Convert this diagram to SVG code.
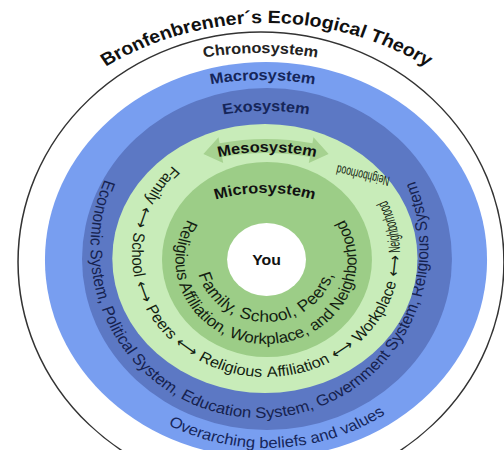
<svg xmlns="http://www.w3.org/2000/svg" width="504" height="450" viewBox="0 0 504 450">
<style>
text{font-family:"Liberation Sans",Arial,"DejaVu Sans",sans-serif}
.lbl{font-weight:bold}
.navy{fill:#16265a}
.blk{fill:#111}
.ring{fill:#141f12}
</style>
<defs>
<path id="p-title" d="M -2.9 292.4 A 269.4 269.4 0 0 1 535.9 292.4"/>
<path id="p-chrono" d="M -39 353 A 300 300 0 0 1 561 353"/>
<path id="p-macro" d="M 3 340 A 260 260 0 0 1 523 340"/>
<path id="p-exo" d="M 46 331 A 220 220 0 0 1 486 331"/>
<path id="p-meso-l" d="M 67 352 A 200 200 0 0 1 467 352"/>
<path id="p-micro-l" d="M 105 353 A 160 160 0 0 1 425 353"/>
<path id="p-micro-in" d="M 266 194 A 64 64 0 0 0 266 322 A 64 64 0 0 0 266 194"/>
<path id="p-micro-out" d="M 266 178 A 83 83 0 0 0 266 344 A 83 83 0 0 0 266 178"/>
<path id="p-meso" d="M 266 131 A 123 123 0 0 0 266 377 A 123 123 0 0 0 266 131"/>
<path id="p-exo-t" d="M 260 78 A 155 170 0 0 0 260 418 A 155 170 0 0 0 260 78"/>
<path id="p-macro-t" d="M 267 68 A 190 190 0 0 0 267 448 A 190 190 0 0 0 267 68"/>
</defs>
<rect width="504" height="450" fill="#ffffff"/>
<g id="chronosystem" transform="matrix(1.09 0 0 1 -23.94 0)">
<ellipse cx="261.4" cy="262" rx="222.9" ry="230" fill="#ffffff" stroke="#333" stroke-width="1.4"/>
<text class="lbl" font-size="15" fill="#222"><textPath href="#p-chrono" startOffset="50%" text-anchor="middle">Chronosystem</textPath></text>
</g>
<g id="title" transform="matrix(1.09 0 0 1 -23.94 0)">
<text class="lbl" font-size="18" fill="#111"><textPath href="#p-title" startOffset="50%" text-anchor="middle">Bronfenbrenner´s Ecological Theory</textPath></text>
</g>
<g id="macrosystem" transform="matrix(1.09 0 0 1 -23.94 0)">
<ellipse cx="266" cy="260" rx="202.8" ry="198" fill="#789ef0"/>
<text class="lbl navy" font-size="15"><textPath href="#p-macro" startOffset="50%" text-anchor="middle">Macrosystem</textPath></text>
<text class="navy" font-size="15.3"><textPath href="#p-macro-t" startOffset="607" text-anchor="middle">Overarching beliefs and values</textPath></text>
</g>
<g id="exosystem" transform="matrix(1.09 0 0 1 -23.94 0)">
<ellipse cx="266.9" cy="259" rx="169.7" ry="171" fill="#5c78c4"/>
<text class="lbl navy" font-size="15"><textPath href="#p-exo" startOffset="50%" text-anchor="middle">Exosystem</textPath></text>
<text font-size="15.4" fill="#16224f"><textPath href="#p-exo-t" startOffset="185">Economic System, Political System, Education System, Government System, Religious System</textPath></text>
</g>
<g id="mesosystem">
<g transform="matrix(1.09 0 0 1 -23.94 0)">
<ellipse cx="265" cy="258.5" rx="140" ry="134.5" fill="#c8ecb9"/>
<text class="ring blk" font-size="15" word-spacing="1.3"><textPath href="#p-meso" startOffset="94.5">Family ⟷ School ⟷ Peers ⟷ Religious Affiliation ⟷ Workplace ⟷</textPath></text>
<text class="ring blk" font-size="15"><textPath href="#p-meso" startOffset="581" textLength="54" lengthAdjust="spacingAndGlyphs">Neighborhood</textPath></text>
</g>
<text class="ring blk" font-size="13.5" x="364" y="171" text-anchor="middle" textLength="54" lengthAdjust="spacingAndGlyphs" transform="rotate(-167 364 171)">Neighborhood</text>
</g>
<g id="connectors">
<path d="M 219.6 143.2 A 257 257 0 0 1 312.4 143.2 L 313.5 137.3 L 328.6 154 L 308.8 162.9 L 309.9 157 A 243 243 0 0 0 222.1 157 L 223.2 162.9 L 203.4 154 L 218.5 137.3 Z" fill="#a6d290"/>
</g>
<g id="mesosystem-label" transform="matrix(1.09 0 0 1 -23.94 0)">
<text class="lbl blk" font-size="15"><textPath href="#p-meso-l" startOffset="50%" text-anchor="middle">Mesosystem</textPath></text>
</g>
<g id="microsystem" transform="matrix(1.09 0 0 1 -23.94 0)">
<ellipse cx="266.9" cy="259.5" rx="96.3" ry="97.5" fill="#9ccd87"/>
<text class="lbl blk" font-size="15"><textPath href="#p-micro-l" startOffset="50%" text-anchor="middle">Microsystem</textPath></text>
<text class="ring" font-size="16" letter-spacing="0.4"><textPath href="#p-micro-in" startOffset="50%" text-anchor="middle">Family, School, Peers,</textPath></text>
<text class="ring" font-size="15.5"><textPath href="#p-micro-out" startOffset="50%" text-anchor="middle">Religious Affiliation, Workplace, and Neighborhood</textPath></text>
</g>
<g id="you" transform="matrix(1.09 0 0 1 -23.94 0)">
<ellipse cx="266.5" cy="259.5" rx="36.2" ry="36.5" fill="#ffffff"/>
<text class="lbl blk" font-size="14.5" x="266.5" y="265" text-anchor="middle">You</text>
</g>
</svg>
